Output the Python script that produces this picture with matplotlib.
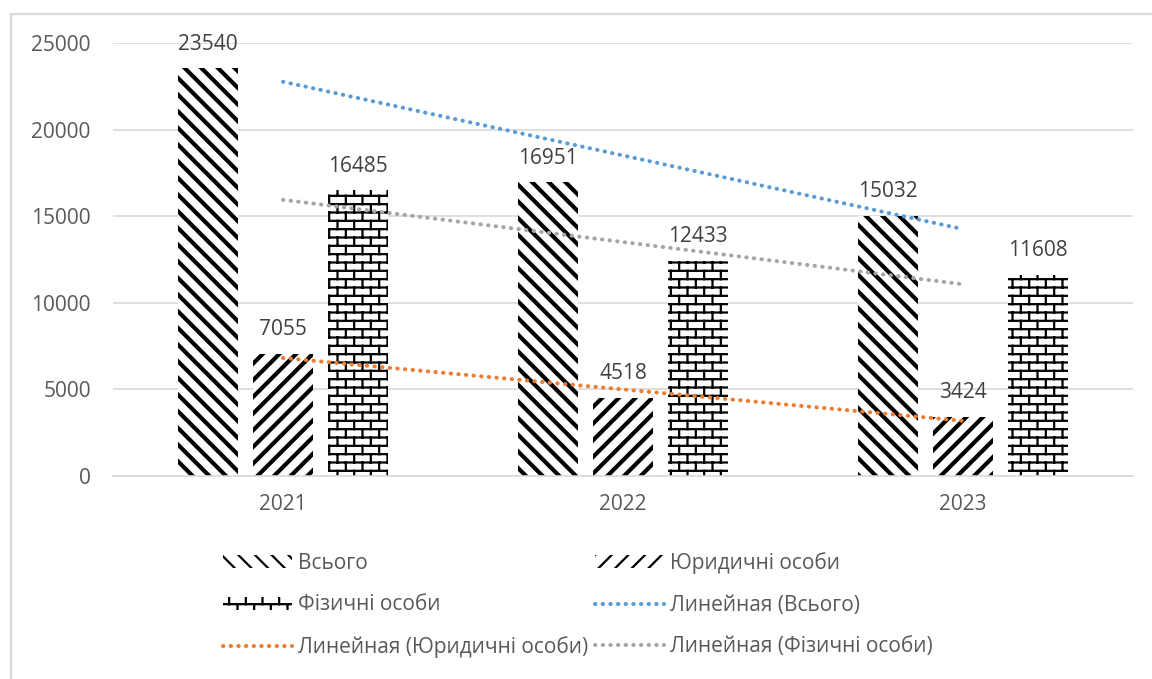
import numpy as np
import matplotlib
matplotlib.use('Agg')
import matplotlib.pyplot as plt
import matplotlib.hatch as mhatch
from matplotlib.patches import Rectangle

# ---------------- DATA ----------------
years = ['2021', '2022', '2023']
total = [23540, 16951, 15032]
legal = [7055, 4518, 3424]
natural = [16485, 12433, 11608]

series_names = ['Всього', 'Юридичні особи', 'Фізичні особи']
trend_label = 'Линейная ({})'

# ---------------- STYLE ----------------
plt.rcParams['font.family'] = ['Open Sans', 'DejaVu Sans']
plt.rcParams['font.size'] = 15

GRID = '#d9d9d9'
TICK_TXT = '#595959'
LABEL_TXT = '#404040'
TREND_COLORS = ['#5b9bd5', '#ed7d31', '#a5a5a5']


class BrickHatch(mhatch.HatchPatternBase):
    """'b' in a hatch string draws a running-bond brick wall."""

    rows = 12
    cols = 6

    def __init__(self, hatch, density):
        segs = []
        if 'b' in hatch:
            h = 1.0 / self.rows
            w = 1.0 / self.cols
            for r in range(self.rows):
                y0 = (r + 0.5) * h
                segs.append((0.0, y0, 1.0, y0))
                shift = 0.75 * w if r % 2 else 0.25 * w
                for c in range(self.cols):
                    x = c * w + shift
                    y1 = y0 + h
                    if y1 > 1.0:
                        segs.append((x, y0, x, 1.0))
                        segs.append((x, 0.0, x, y1 - 1.0))
                    else:
                        segs.append((x, y0, x, y1))
        self.segs = segs
        self.num_vertices = 2 * len(segs)

    def set_vertices_and_codes(self, vertices, codes):
        pts = np.array(self.segs, dtype=float).reshape(-1, 2)
        vertices[:] = pts
        codes[0::2] = mhatch.Path.MOVETO
        codes[1::2] = mhatch.Path.LINETO


mhatch._hatch_types.append(BrickHatch)
mhatch._validate_hatch_pattern = lambda hatch: None

# ---------------- FIGURE ----------------
fig = plt.figure(figsize=(11.52, 6.79), dpi=100)
W, H = 1152, 679
ax = fig.add_axes([113 / W, 1 - 476 / H, (1133 - 113) / W, (476 - 43) / H])

# outer frame of the chart area
fig.patches.append(Rectangle((11 / W, -0.1), 1.2, (H - 14) / H + 0.1,
                             transform=fig.transFigure, fill=False,
                             edgecolor=GRID, linewidth=1.6))

x = np.arange(len(years))
step = 0.22
width = 0.178
hatches = ['\\\\', '//', 'b']
hatch_lw = [3.0, 3.0, 1.6]
values = [total, legal, natural]

bar_handles = []
for i, (vals, name, hatch, hlw) in enumerate(zip(values, series_names, hatches, hatch_lw)):
    plt.rcParams['hatch.linewidth'] = hlw
    bars = ax.bar(x + (i - 1) * step, vals, width, label=name,
                  facecolor='white', edgecolor='black', linewidth=0,
                  hatch=hatch, zorder=2)
    for b in bars:
        if hasattr(b, 'set_hatch_linewidth'):
            b.set_hatch_linewidth(hlw)
    bar_handles.append(bars)
    for xb, v in zip(x + (i - 1) * step, vals):
        ax.annotate(f'{v}', (xb, v), textcoords='offset points',
                    xytext=(0, 13.5), ha='center', va='baseline',
                    fontsize=15, color=LABEL_TXT, zorder=4)

# linear trendlines through category centres
trend_handles = []
for vals, name, col in zip(values, series_names, TREND_COLORS):
    k, b0 = np.polyfit(x, vals, 1)
    line, = ax.plot(x, k * x + b0, color=col, linewidth=2.9,
                    linestyle=(0, (0.1, 1.8)), dash_capstyle='round',
                    label=trend_label.format(name), zorder=3)
    trend_handles.append(line)

# ---------------- AXES ----------------
ax.set_xlim(-0.5, 2.5)
ax.set_ylim(0, 25000)
ax.set_yticks(np.arange(0, 25001, 5000))
ax.set_xticks(x)
ax.set_xticklabels(years)
ax.tick_params(axis='both', length=0, labelsize=15, labelcolor=TICK_TXT)
ax.tick_params(axis='y', pad=16)
ax.tick_params(axis='x', pad=13)
ax.grid(True, axis='y', color=GRID, linewidth=1.2, zorder=0)
ax.set_axisbelow(True)
for side in ['top', 'right', 'left']:
    ax.spines[side].set_visible(False)
ax.spines['bottom'].set_color(GRID)
ax.spines['bottom'].set_linewidth(1.2)

# ---------------- LEGEND ----------------
handles = [bar_handles[0], bar_handles[2], trend_handles[1],
           bar_handles[1], trend_handles[0], trend_handles[2]]
labels = [h.get_label() for h in handles]
fig.legend(handles, labels, ncol=2, loc='center',
           bbox_to_anchor=(578 / W, 1 - 605 / H), frameon=False,
           fontsize=15, handlelength=3.3, handleheight=0.6,
           handletextpad=0.3, columnspacing=0.3, labelspacing=1.0,
           labelcolor=TICK_TXT)

fig.savefig('out.png', dpi=100)
